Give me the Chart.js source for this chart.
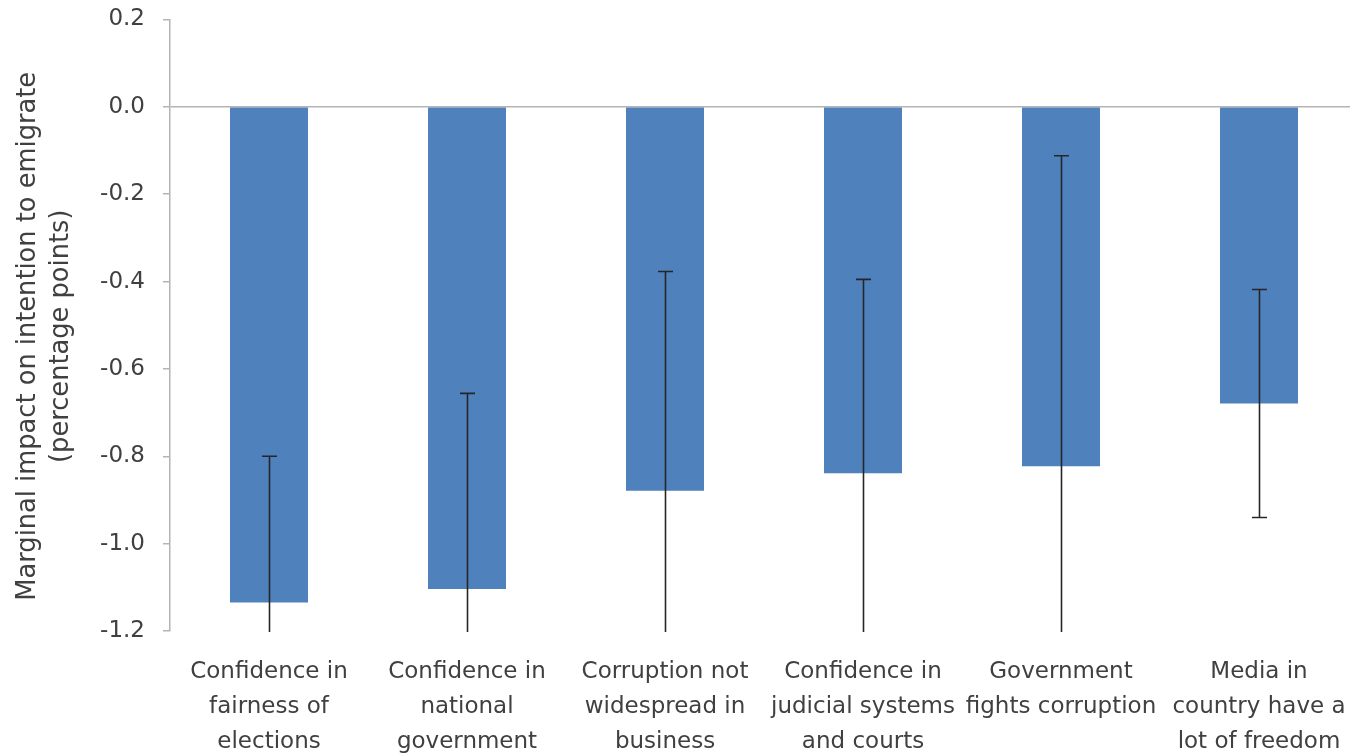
<!DOCTYPE html>
<html>
<head>
<meta charset="utf-8">
<script src="https://cdn.jsdelivr.net/npm/chart.js@4"></script>
<style>
  html, body { margin: 0; padding: 0; background: #fff; overflow: hidden; }
  #wrap { position: relative; width: 1360px; height: 753px; }
</style>
</head>
<body>
<div id="wrap"><canvas id="c"></canvas></div>
<script>
// Categories (wrapped into lines as printed under the axis)
const categories = [
  ["Confidence in", "fairness of", "elections"],
  ["Confidence in", "national", "government"],
  ["Corruption not", "widespread in", "business"],
  ["Confidence in", "judicial systems", "and courts"],
  ["Government", "fights corruption"],
  ["Media in", "country have a", "lot of freedom"]
];
// Marginal impact (percentage points)
const impact = [-1.135, -1.104, -0.879, -0.839, -0.823, -0.679];
// Half-width of the confidence interval around each estimate
const errorHalf = [0.335, 0.448, 0.502, 0.444, 0.711, 0.261];
// Value axis ticks
const yMin = -1.2, yMax = 0.2, yStep = 0.2;
// Value axis title lines
const yTitle = ['Marginal impact on intention to emigrate', '(percentage points)'];

const textColor = '#404040';
const axisGray = '#b4b4b4';
const fontFamily = '"DejaVu Sans", sans-serif';

// Whiskers for the confidence intervals, clipped to the plot area
const errorBars = {
  id: 'errorBars',
  afterDatasetsDraw(chart) {
    const { ctx, chartArea, scales } = chart;
    const meta = chart.getDatasetMeta(0);
    const y = scales.y;
    ctx.save();
    ctx.beginPath();
    ctx.rect(chartArea.left, chartArea.top, chartArea.right - chartArea.left, chartArea.bottom - chartArea.top + 1);
    ctx.clip();
    ctx.strokeStyle = '#262626';
    ctx.lineWidth = 1.6;
    meta.data.forEach((bar, i) => {
      const v = impact[i], e = errorHalf[i];
      const x = Math.round(bar.x) + 0.5;
      const yTop = y.getPixelForValue(v + e);
      const yBot = y.getPixelForValue(v - e);
      const cap = 7.5;
      ctx.beginPath();
      ctx.moveTo(x, yTop);
      ctx.lineTo(x, yBot);
      ctx.moveTo(x - cap, yTop);
      ctx.lineTo(x + cap, yTop);
      ctx.moveTo(x - cap, yBot);
      ctx.lineTo(x + cap, yBot);
      ctx.stroke();
    });
    ctx.restore();
  }
};

// Rotated two-line title beside the value axis
const axisTitle = {
  id: 'axisTitle',
  afterDraw(chart) {
    const { ctx, chartArea } = chart;
    const cy = (chartArea.top + chartArea.bottom) / 2 + 11;
    const baselines = [35, 68];
    ctx.save();
    ctx.fillStyle = textColor;
    ctx.font = '25.7px ' + fontFamily;
    ctx.textAlign = 'center';
    ctx.textBaseline = 'alphabetic';
    yTitle.forEach((line, i) => {
      ctx.save();
      ctx.translate(baselines[i], cy);
      ctx.rotate(-Math.PI / 2);
      ctx.fillText(line, 0, 0);
      ctx.restore();
    });
    ctx.restore();
  }
};

new Chart(document.getElementById('c'), {
  type: 'bar',
  data: {
    labels: categories,
    datasets: [{
      data: impact,
      backgroundColor: '#4f81bd',
      borderWidth: 0,
      barPercentage: 0.394,
      categoryPercentage: 1.0
    }]
  },
  options: {
    responsive: true,
    maintainAspectRatio: false,
    animation: false,
    events: [],
    layout: { padding: { top: 19.5, left: 0, right: 2, bottom: 0 } },
    plugins: {
      legend: { display: false },
      tooltip: { enabled: false }
    },
    scales: {
      x: {
        grid: { display: false },
        border: { display: false },
        ticks: {
          color: textColor,
          font: { family: fontFamily, size: 23, lineHeight: 1.52 },
          padding: 16,
          maxRotation: 0,
          autoSkip: false
        },
        afterFit(scale) {
          scale.height = 122;
          scale.paddingLeft = 0;
          scale.paddingRight = 0;
        }
      },
      y: {
        min: yMin,
        max: yMax,
        ticks: {
          stepSize: yStep,
          color: textColor,
          font: { family: fontFamily, size: 23 },
          padding: 18,
          callback: v => Number(v).toFixed(1)
        },
        grid: {
          drawOnChartArea: true,
          color: ctx => (ctx.tick && Math.abs(ctx.tick.value) < 1e-9) ? axisGray : 'rgba(0,0,0,0)',
          tickColor: axisGray,
          tickLength: 7,
          lineWidth: 1.5
        },
        border: { display: true, color: axisGray, width: 1.5 },
        title: { display: false },
        afterFit(scale) {
          scale.width = 170;
          scale.paddingTop = 0;
          scale.paddingBottom = 0;
        }
      }
    }
  },
  plugins: [errorBars, axisTitle]
});
</script>
</body>
</html>
